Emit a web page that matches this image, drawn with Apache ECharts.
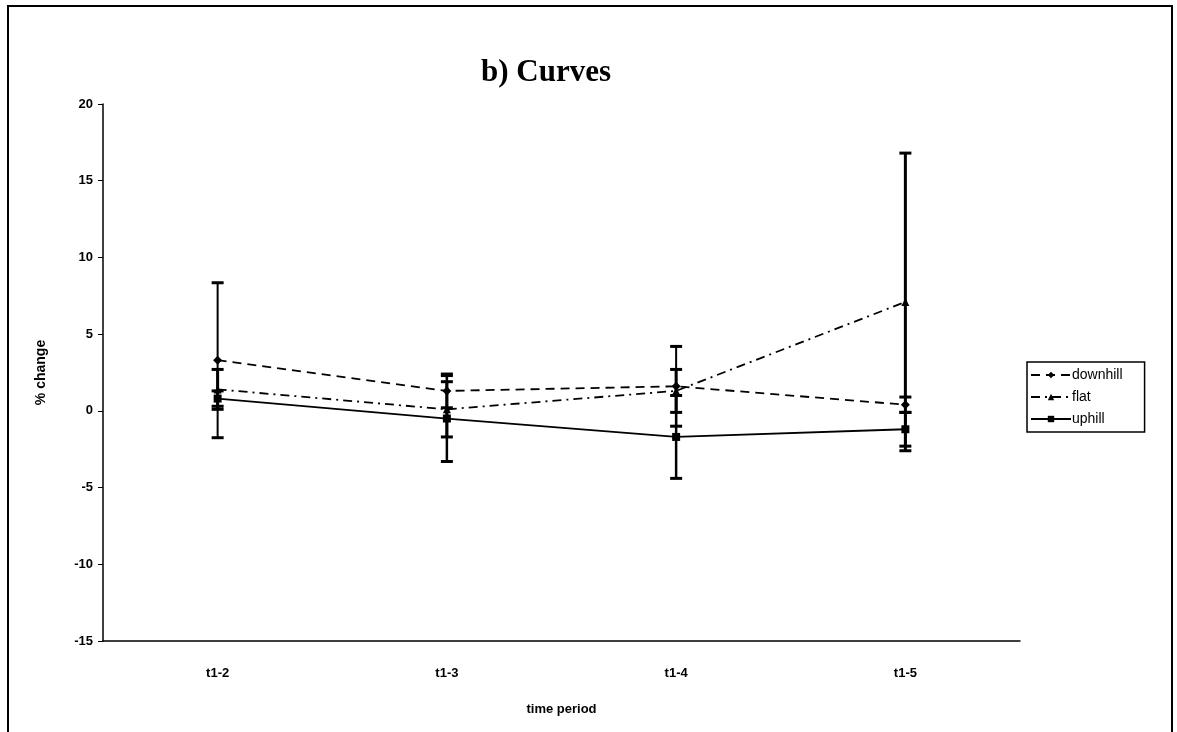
<!DOCTYPE html>
<html lang="en">
<head>
    <meta charset="UTF-8">
    <title>b) Curves</title>
    <script src="https://cdn.jsdelivr.net/npm/echarts@6/dist/echarts.min.js"></script>
    <style>
        html, body {
            margin: 0;
            padding: 0;
            background: #fff;
        }

        #chart {
            width: 1177px;
            height: 732px;
        }
    </style>
</head>
<body>
<div id="chart"></div>
<script>
    const categories = ['t1-2', 't1-3', 't1-4', 't1-5'];
    const yTicks = [-15, -10, -5, 0, 5, 10, 15, 20];

    const downhill = [3.3, 1.3, 1.6, 0.4];
    const downhillErr = [5.05, 1.1, 2.6, 0.5];
    const flat = [1.4, 0.1, 1.3, 7.1];
    const flatErr = [1.3, 1.8, 1.4, 9.7];
    const uphill = [0.8, -0.5, -1.7, -1.2];
    const uphillErr = [0.5, 2.8, 2.7, 1.1];

    function errorData(vals, errs) {
        return vals.map((v, i) => [i, v - errs[i], v + errs[i]]);
    }

    function errorSeries(name, vals, errs, width) {
        return {
            name: name + ' err',
            type: 'custom',
            data: errorData(vals, errs),
            encode: {x: 0, y: [1, 2]},
            z: 1,
            silent: true,
            renderItem: function (params, api) {
                const lo = api.coord([api.value(0), api.value(1)]);
                const hi = api.coord([api.value(0), api.value(2)]);
                const half = 6;
                const style = {stroke: '#000', lineWidth: width};
                const cap = {stroke: '#000', lineWidth: 3};
                return {
                    type: 'group',
                    children: [
                        {type: 'line', shape: {x1: lo[0], y1: lo[1], x2: hi[0], y2: hi[1]}, style: style},
                        {type: 'line', shape: {x1: lo[0] - half, y1: lo[1], x2: lo[0] + half, y2: lo[1]}, style: cap},
                        {type: 'line', shape: {x1: hi[0] - half, y1: hi[1], x2: hi[0] + half, y2: hi[1]}, style: cap}
                    ]
                };
            }
        };
    }

    const labelFont = {fontFamily: 'Liberation Sans', fontWeight: 'bold', fontSize: 13, color: '#000'};

    const chart = echarts.init(document.getElementById('chart'));
    chart.setOption({
        animation: false,
        backgroundColor: '#fff',
        title: {
            text: 'b) Curves',
            left: 541,
            top: 52,
            textAlign: 'center',
            textStyle: {fontFamily: 'Liberation Serif', fontWeight: 'bold', fontSize: 31, color: '#000'}
        },
        graphic: [{
            type: 'rect',
            shape: {x: 8, y: 6, width: 1164, height: 740},
            style: {fill: 'none', stroke: '#000', lineWidth: 2},
            silent: true
        }],
        legend: {
            orient: 'vertical',
            left: 1027,
            top: 362,
            itemWidth: 40,
            itemHeight: 8,
            itemGap: 8,
            padding: [6, 22, 6, 3],
            borderColor: '#000',
            borderWidth: 1.5,
            borderRadius: 0,
            data: ['downhill', 'flat', 'uphill'],
            textStyle: {fontFamily: 'Liberation Sans', fontSize: 14, color: '#000', padding: [0, 0, 0, -4]}
        },
        grid: {left: 103, right: 157, top: 104, bottom: 91},
        xAxis: {
            type: 'category',
            data: categories,
            name: 'time period',
            nameLocation: 'middle',
            nameGap: 62,
            nameTextStyle: labelFont,
            axisLine: {onZero: false, lineStyle: {color: '#000', width: 1.5}},
            axisTick: {length: 6, lineStyle: {color: '#000'}},
            axisLabel: Object.assign({margin: 26}, labelFont)
        },
        yAxis: {
            type: 'value',
            min: yTicks[0],
            max: yTicks[yTicks.length - 1],
            interval: 5,
            name: '% change',
            nameLocation: 'middle',
            nameGap: 55,
            nameTextStyle: Object.assign({}, labelFont, {fontSize: 14}),
            splitLine: {show: false},
            axisLine: {show: true, lineStyle: {color: '#000', width: 1.5}},
            axisTick: {show: true, length: 5, lineStyle: {color: '#000'}},
            axisLabel: Object.assign({margin: 10}, labelFont)
        },
        series: [
            errorSeries('downhill', downhill, downhillErr, 2),
            errorSeries('flat', flat, flatErr, 3),
            errorSeries('uphill', uphill, uphillErr, 2.5),
            {
                name: 'downhill',
                type: 'line',
                data: downhill,
                z: 3,
                symbol: 'diamond',
                symbolSize: 9,
                itemStyle: {color: '#000'},
                lineStyle: {color: '#000', width: 1.8, type: [9, 6]}
            },
            {
                name: 'flat',
                type: 'line',
                data: flat,
                z: 3,
                symbol: 'triangle',
                symbolSize: 8,
                itemStyle: {color: '#000'},
                lineStyle: {color: '#000', width: 1.8, type: [9, 5, 2, 5]}
            },
            {
                name: 'uphill',
                type: 'line',
                data: uphill,
                z: 3,
                symbol: 'rect',
                symbolSize: 8,
                itemStyle: {color: '#000'},
                lineStyle: {color: '#000', width: 1.8}
            }
        ]
    });
</script>
</body>
</html>
